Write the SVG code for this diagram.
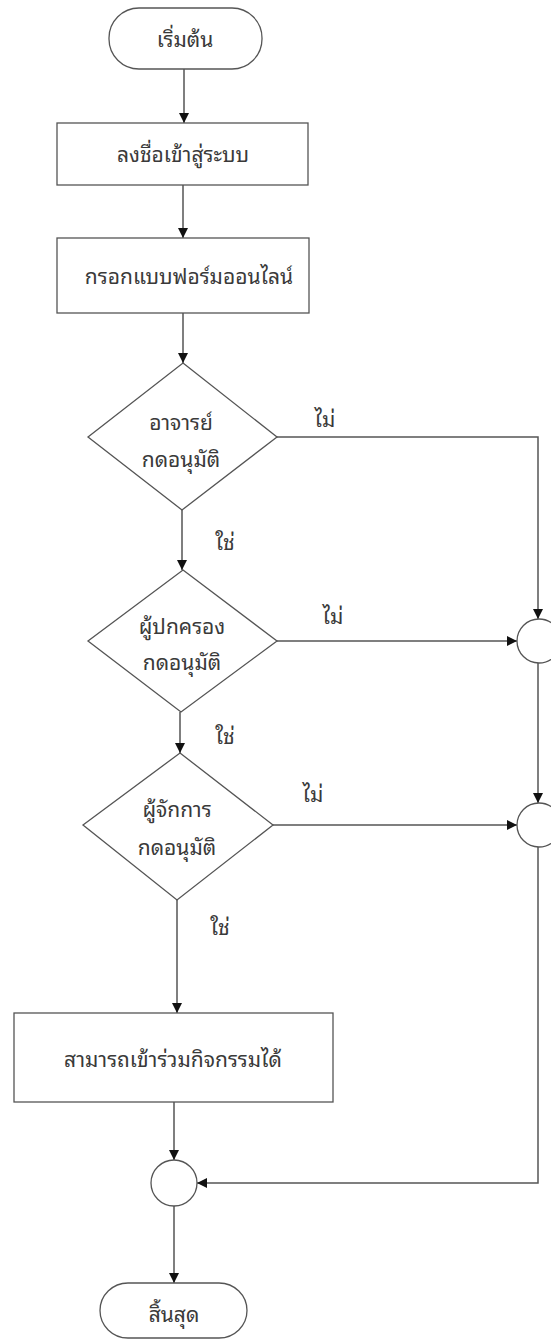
<svg xmlns="http://www.w3.org/2000/svg" width="551" height="1339" viewBox="0 0 551 1339">
<defs>
<style>
.shape{fill:#fff;stroke:#555;stroke-width:1.3}
.edge{fill:none;stroke:#555;stroke-width:1.5}
.t{font-family:"Noto Sans Thai Looped","Loma","Garuda","Noto Sans Thai","Noto Sans",sans-serif;font-size:21px;fill:#3a3a3a;text-anchor:middle;dominant-baseline:central}
</style>
<marker id="ah" viewBox="0 0 10 10" refX="10" refY="5" markerWidth="10" markerHeight="10" markerUnits="userSpaceOnUse" orient="auto">
<path d="M0,0 L10,5 L0,10 z" fill="#111"/>
</marker>
</defs>
<rect width="551" height="1339" fill="#fff"/>
<g id="connectors">
<path class="edge" d="M184,69 V123" marker-end="url(#ah)"/>
<path class="edge" d="M183,185 V238" marker-end="url(#ah)"/>
<path class="edge" d="M183,313 V363" marker-end="url(#ah)"/>
<path class="edge" d="M277,437 H538 V619" marker-end="url(#ah)"/>
<path class="edge" d="M182,510 V570" marker-end="url(#ah)"/>
<path class="edge" d="M277,641 H517" marker-end="url(#ah)"/>
<path class="edge" d="M180,712 V753" marker-end="url(#ah)"/>
<path class="edge" d="M538,662 V803" marker-end="url(#ah)"/>
<path class="edge" d="M273,825 H517" marker-end="url(#ah)"/>
<path class="edge" d="M177,900 V1013" marker-end="url(#ah)"/>
<path class="edge" d="M538,847 V1183 H197" marker-end="url(#ah)"/>
<path class="edge" d="M174,1102 V1160" marker-end="url(#ah)"/>
<path class="edge" d="M174,1206 V1283" marker-end="url(#ah)"/>
<text class="t" x="325" y="417">ไม่</text>
<text class="t" x="225" y="540">ใช่</text>
<text class="t" x="333" y="614">ไม่</text>
<text class="t" x="225" y="734">ใช่</text>
<text class="t" x="313" y="792">ไม่</text>
<text class="t" x="220" y="925">ใช่</text>
</g>
<g id="start">
<rect class="shape" x="109" y="8" width="153" height="61" rx="30" ry="30"/>
<text class="t" x="185" y="37">เริ่มต้น</text>
</g>
<g id="login">
<rect class="shape" x="57" y="123" width="251" height="62"/>
<text class="t" x="183" y="152">ลงชื่อเข้าสู่ระบบ</text>
</g>
<g id="form">
<rect class="shape" x="57" y="238" width="252" height="75"/>
<text class="t" x="189" y="274">กรอกแบบฟอร์มออนไลน์</text>
</g>
<g id="teacher">
<polygon class="shape" points="183,363 277,437 182,510 88,437"/>
<text class="t" x="181" y="420">อาจารย์</text>
<text class="t" x="181" y="457">กดอนุมัติ</text>
</g>
<g id="parent">
<polygon class="shape" points="183,570 277,641 181,712 88,641"/>
<text class="t" x="182" y="624">ผู้ปกครอง</text>
<text class="t" x="182" y="660">กดอนุมัติ</text>
</g>
<g id="manager">
<polygon class="shape" points="180,753 273,825 177,900 83,825"/>
<text class="t" x="177" y="807">ผู้จักการ</text>
<text class="t" x="177" y="845">กดอนุมัติ</text>
</g>
<g id="join">
<rect class="shape" x="14" y="1013" width="319" height="89"/>
<text class="t" x="173" y="1057">สามารถเข้าร่วมกิจกรรมได้</text>
</g>
<g id="merge1">
<circle class="shape" cx="539" cy="641" r="22"/>
</g>
<g id="merge2">
<circle class="shape" cx="539" cy="825" r="22"/>
</g>
<g id="merge3">
<circle class="shape" cx="174" cy="1183" r="23"/>
</g>
<g id="end">
<rect class="shape" x="100" y="1283" width="147" height="55" rx="28" ry="28"/>
<text class="t" x="174" y="1312">สิ้นสุด</text>
</g>
</svg>
